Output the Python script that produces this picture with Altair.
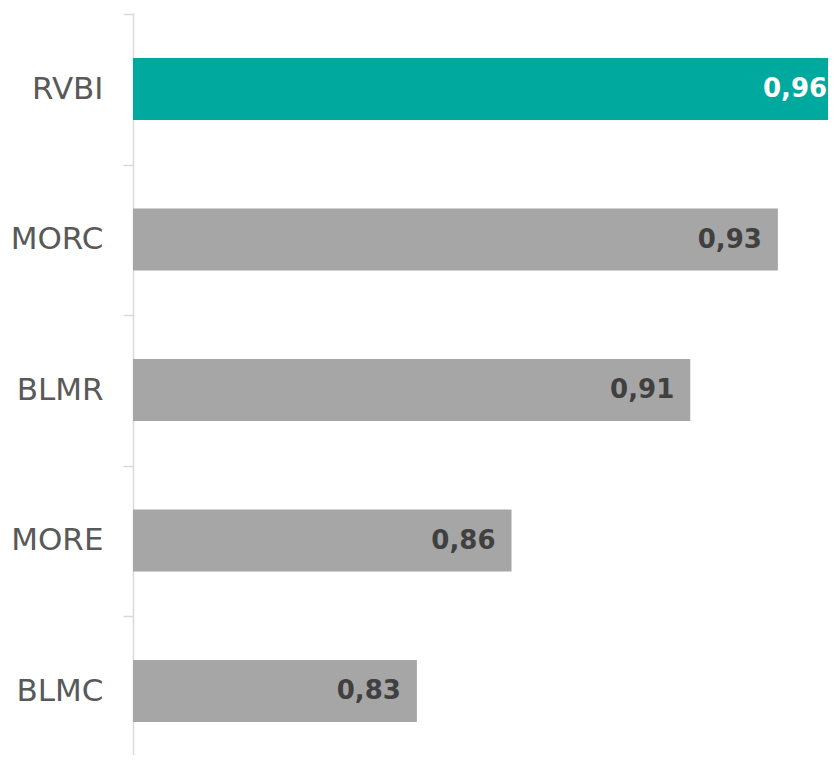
import altair as alt
import pandas as pd

categories = ["RVBI", "MORC", "BLMR", "MORE", "BLMC"]
values = [0.956, 0.934, 0.909, 0.858, 0.831]
highlight = [True, False, False, False, False]

df = pd.DataFrame({
    "cat": categories,
    "value": values,
    "hl": highlight,
    "label": [f"{v:.2f}".replace(".", ",") for v in values],
})

y_enc = alt.Y(
    "cat:N",
    sort=categories,
    title=None,
    scale=alt.Scale(paddingInner=0.588, paddingOuter=0.2591, align=0.577),
    axis=alt.Axis(
        tickOffset=-75,
        labelOffset=75,
        domainColor="#d9d9d9",
        domainWidth=1.5,
        tickColor="#d9d9d9",
        tickWidth=1.5,
        tickSize=10,
        labelFont="DejaVu Sans",
        labelFontSize=31,
        labelColor="#595959",
        labelPadding=20,
        grid=False,
    ),
)
x_scale = alt.Scale(domain=[0.75, 0.9483], zero=False, nice=False)

bars = alt.Chart(df).mark_bar(clip=True).encode(
    y=y_enc,
    x=alt.X("value:Q", scale=x_scale, axis=None),
    x2=alt.datum(0.75),
    color=alt.condition("datum.hl", alt.value("#00A99D"), alt.value("#A6A6A6")),
)

labels = alt.Chart(df).transform_calculate(
    labelx="min(datum.value, 0.9526)"
).mark_text(
    align="right", baseline="middle", dx=-16, font="DejaVu Sans", fontSize=26, fontWeight="bold"
).encode(
    y=alt.Y("cat:N", sort=categories),
    x=alt.X("labelx:Q", scale=x_scale),
    text="label:N",
    color=alt.condition("datum.hl", alt.value("#ffffff"), alt.value("#404040")),
)

chart = alt.layer(bars, labels).properties(
    width=695,
    height=742,
    autosize=alt.AutoSizeParams(type="none"),
    padding={"left": 125, "top": 5, "right": 0, "bottom": 0},
).configure_view(stroke=None)

chart.save("out.html", embed_options={"renderer": "svg", "actions": False})
